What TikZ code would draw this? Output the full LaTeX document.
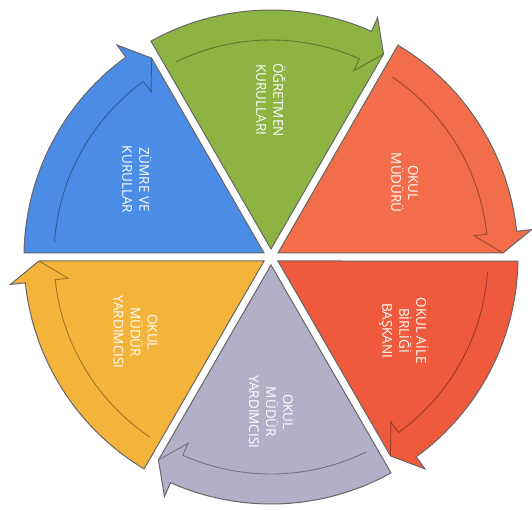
\documentclass[tikz,border=0pt]{standalone}
\usepackage{fontspec}
\setsansfont{Open Sans}
\usepackage{tikz}
\definecolor{leaf}{HTML}{8DB443}
\definecolor{tomato}{HTML}{F26E4B}
\definecolor{brick}{HTML}{EF5A3C}
\definecolor{lilac}{HTML}{B2B0C8}
\definecolor{amber}{HTML}{F4B43C}
\definecolor{sky}{HTML}{4B8CE6}

% one slice of the wheel, arrow head at its clockwise end
\newcommand{\drawpetal}[2]{%
  \begin{scope}[rotate=#1]
    \filldraw[petal, fill=#2] (6.93,4) -- (59.07:247)
      arc[start angle=59.07, end angle=6, radius=247]
      -- (6:262) -- (232,4) -- cycle;
    \draw[innerline, draw=#2!65!black] (56:217)
      arc[start angle=56, end angle=6, radius=217]
      -- (6:204) -- (232,4);
  \end{scope}}

\begin{document}
\begin{tikzpicture}[
  x=1pt, y=1pt,
  petal/.style={draw=black!60, line width=1pt, line join=miter},
  innerline/.style={line width=0.9pt},
  lbl/.style={rotate=-90, align=center, text=white,
              font=\sffamily\fontsize{13.5}{17}\selectfont}
]
\useasboundingbox (-271,-253) rectangle (261,257);

\drawpetal{0}{tomato}
\drawpetal{60}{leaf}
\drawpetal{120}{sky}
\drawpetal{180}{amber}
\drawpetal{240}{lilac}
\drawpetal{300}{brick}

\node[lbl] (ogretmen) at (90:157) {ÖĞRETMEN\\KURULLARI};
\node[lbl] (mudur) at (29:153) {OKUL\\MÜDÜRÜ};
\node[lbl] (aile) at (-29:152) {OKUL AİLE\\BİRLİĞİ\\BAŞKANI};
\node[lbl] (yardimci1) at (-90:155) {OKUL\\MÜDÜR\\YARDIMCISI};
\node[lbl] (yardimci2) at (209:155) {OKUL\\MÜDÜR\\YARDIMCISI};
\node[lbl] (zumre) at (150:155) {ZÜMRE VE\\KURULLAR};
\end{tikzpicture}
\end{document}
